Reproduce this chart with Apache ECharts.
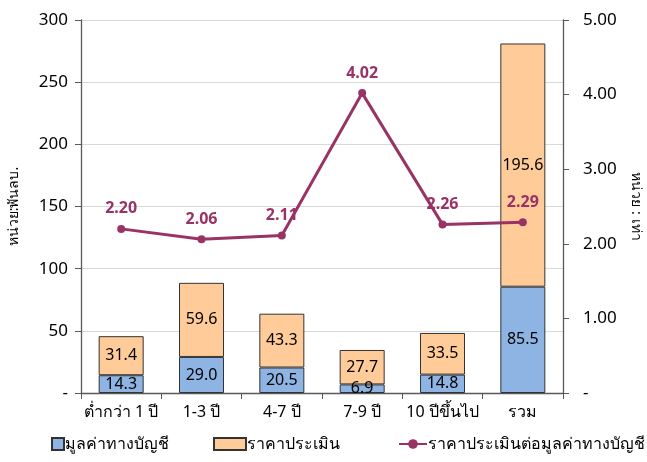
<!DOCTYPE html>
<html>
<head>
<meta charset="utf-8">
<script src="https://cdn.jsdelivr.net/npm/echarts@6/dist/echarts.min.js"></script>
<style>
  html, body { margin: 0; padding: 0; background: #fff; }
  #chart { width: 647px; height: 462px; }
</style>
</head>
<body>
<div id="chart"></div>
<script>
// ข้อมูล
const categories = ['ต่ำกว่า 1 ปี', '1-3 ปี', '4-7 ปี', '7-9 ปี', '10 ปีขึ้นไป', 'รวม'];
const bookValue = [14.3, 29.0, 20.5, 6.9, 14.8, 85.5];
const appraisal = [31.4, 59.6, 43.3, 27.7, 33.5, 195.6];
const ratio = [2.20, 2.06, 2.11, 4.02, 2.26, 2.29];
const leftTicks = [0, 50, 100, 150, 200, 250, 300];
const rightTicks = [0, 1, 2, 3, 4, 5];

const FONT = 'Tahoma, "Noto Sans", sans-serif';
const AXIS_COLOR = '#595959';
const LINE_COLOR = '#993366';

const chart = echarts.init(document.getElementById('chart'));

const barLabel = {
  show: true,
  position: 'inside',
  color: '#000',
  fontSize: 16,
  fontFamily: FONT,
  formatter: p => p.value.toFixed(1)
};

const legendText = { fontFamily: FONT, fontSize: 16, color: '#000', padding: [0, 0, 0, -4] };

const option = {
  animation: false,
  grid: { left: 81, right: 84, top: 20, bottom: 69, outerBoundsMode: 'none', containLabel: false },
  legend: [
    {
      data: [{ name: 'มูลค่าทางบัญชี', icon: 'rect' }],
      left: 46, top: 431,
      itemWidth: 12, itemHeight: 12,
      textStyle: legendText
    },
    {
      data: [{ name: 'ราคาประเมิน', icon: 'rect' }],
      left: 208, top: 431,
      itemWidth: 32, itemHeight: 12,
      textStyle: legendText
    },
    {
      data: ['ราคาประเมินต่อมูลค่าทางบัญชี'],
      left: 393, top: 431,
      itemWidth: 28, itemHeight: 12,
      textStyle: legendText
    }
  ],
  xAxis: {
    type: 'category',
    data: categories,
    axisLine: { lineStyle: { color: AXIS_COLOR, width: 1.3 } },
    axisTick: { show: true, length: 6, alignWithLabel: false, lineStyle: { color: AXIS_COLOR } },
    axisLabel: { color: '#000', fontSize: 16, fontFamily: FONT, margin: 11, interval: 0 }
  },
  yAxis: [
    {
      type: 'value',
      min: 0, max: 300, interval: 50,
      name: 'หน่วย:พันลบ.',
      nameLocation: 'middle',
      nameGap: 60,
      nameTextStyle: { fontFamily: FONT, fontSize: 14, color: '#000' },
      axisLine: { show: true, lineStyle: { color: AXIS_COLOR, width: 1.3 } },
      axisTick: { show: true, length: 6, lineStyle: { color: AXIS_COLOR } },
      splitLine: { lineStyle: { color: '#d9d9d9' } },
      axisLabel: {
        color: '#000', fontSize: 17, fontFamily: FONT, margin: 13,
        formatter: v => (v === 0 ? '-' : String(v))
      }
    },
    {
      type: 'value',
      min: 0, max: 5, interval: 1,
      name: 'หน่วย : เท่า',
      nameLocation: 'middle',
      nameGap: 66,
      nameRotate: -90,
      nameTextStyle: { fontFamily: FONT, fontSize: 14, color: '#000' },
      axisLine: { show: true, lineStyle: { color: AXIS_COLOR, width: 1.3 } },
      axisTick: { show: true, length: 6, lineStyle: { color: AXIS_COLOR } },
      splitLine: { show: false },
      axisLabel: {
        color: '#000', fontSize: 17, fontFamily: FONT, margin: 20,
        formatter: v => (v === 0 ? '-' : v.toFixed(2))
      }
    }
  ],
  series: [
    {
      name: 'มูลค่าทางบัญชี',
      type: 'bar',
      stack: 'total',
      barWidth: 45,
      data: bookValue,
      itemStyle: { color: '#8db4e2', borderColor: '#333', borderWidth: 1 },
      label: barLabel
    },
    {
      name: 'ราคาประเมิน',
      type: 'bar',
      stack: 'total',
      barWidth: 45,
      data: appraisal,
      itemStyle: { color: '#ffcc99', borderColor: '#333', borderWidth: 1 },
      label: barLabel
    },
    {
      name: 'ราคาประเมินต่อมูลค่าทางบัญชี',
      type: 'line',
      yAxisIndex: 1,
      data: ratio,
      symbol: 'circle',
      symbolSize: 8,
      lineStyle: { color: LINE_COLOR, width: 3 },
      itemStyle: { color: LINE_COLOR },
      label: {
        show: true,
        position: 'top',
        distance: 8,
        color: LINE_COLOR,
        fontWeight: 'bold',
        fontSize: 16,
        fontFamily: FONT,
        formatter: p => p.value.toFixed(2)
      },
      z: 5
    }
  ]
};

chart.setOption(option);
</script>
</body>
</html>
